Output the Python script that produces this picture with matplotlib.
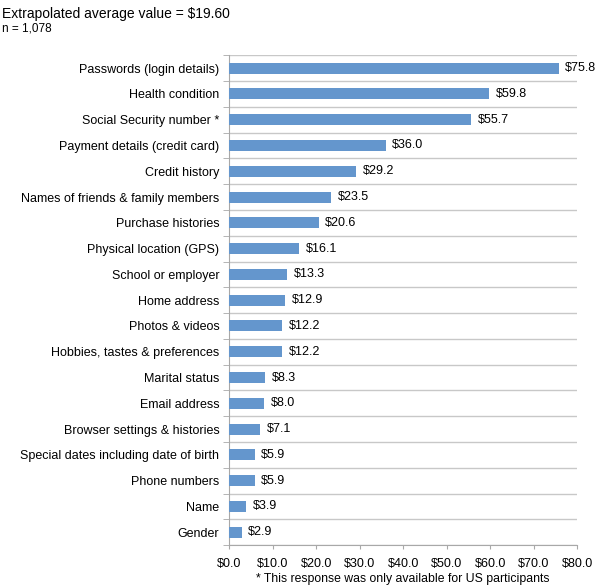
import matplotlib
matplotlib.use("Agg")
import matplotlib.pyplot as plt
import numpy as np

categories = [
    "Passwords (login details)", "Health condition", "Social Security number *",
    "Payment details (credit card)", "Credit history", "Names of friends & family members",
    "Purchase histories", "Physical location (GPS)", "School or employer", "Home address",
    "Photos & videos", "Hobbies, tastes & preferences", "Marital status", "Email address",
    "Browser settings & histories", "Special dates including date of birth",
    "Phone numbers", "Name", "Gender",
]
values = [75.8, 59.8, 55.7, 36.0, 29.2, 23.5, 20.6, 16.1, 13.3, 12.9,
          12.2, 12.2, 8.3, 8.0, 7.1, 5.9, 5.9, 3.9, 2.9]
xticks = [0, 10, 20, 30, 40, 50, 60, 70, 80]

BAR = "#6496CD"
GRID = "#C8C8C8"
AXIS = "#A8A8A8"

plt.rcParams["font.family"] = ["Liberation Sans", "DejaVu Sans"]

fig = plt.figure(figsize=(6.03, 5.88), dpi=100)
ax = fig.add_axes([0.380, 0.073, 0.577, 0.833])

y = np.arange(len(categories))
ax.barh(y, values, height=0.43, color=BAR, zorder=3)
for yi, v in zip(y, values):
    ax.text(v + 1.5, yi, f"${v:.1f}", va="center", ha="left", fontsize=9)

ax.set_ylim(len(categories) - 0.5, -0.5)
ax.set_xlim(0, 80)
ax.set_yticks(y)
ax.set_yticklabels(categories, fontsize=9)
ax.tick_params(axis="y", length=0, pad=7)
ax.set_yticks(np.arange(-0.5, len(categories), 1), minor=True)
ax.tick_params(axis="y", which="minor", length=4, color=AXIS)
ax.grid(axis="y", which="minor", color=GRID, lw=1, zorder=0)

ax.set_xticks(xticks)
ax.set_xticklabels([f"${t:.1f}" for t in xticks], fontsize=9)
ax.tick_params(axis="x", length=3, color=AXIS, pad=6)

for s in ["top", "right"]:
    ax.spines[s].set_visible(False)
ax.spines["left"].set_color(AXIS)
ax.spines["bottom"].set_color(AXIS)

fig.text(0.003, 0.977, "Extrapolated average value = $19.60", fontsize=10, va="center")
fig.text(0.003, 0.951, "n = 1,078", fontsize=8.5, va="center")
fig.text(0.668, 0.016, "* This response was only available for US participants",
         fontsize=8.8, ha="center", va="center")

fig.savefig("out.png", dpi=100)
